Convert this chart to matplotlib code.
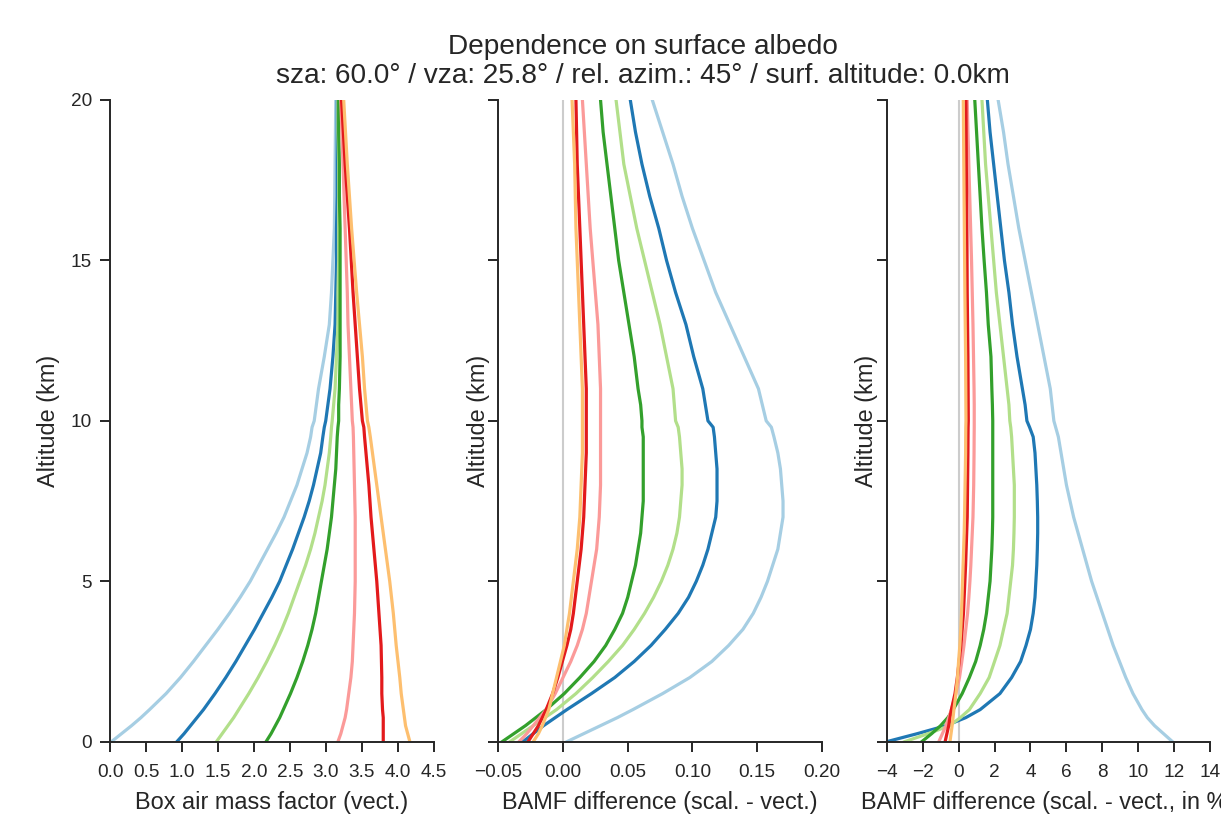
import numpy as np
import matplotlib
matplotlib.use("Agg")
import matplotlib.pyplot as plt

plt.rcParams['font.family'] = ['Liberation Sans', 'DejaVu Sans']

# altitude grid (km)
alt = [0, 0.25, 0.5, 0.75, 1, 1.5, 2, 2.5, 3, 3.5, 4, 4.5, 5, 5.5, 6, 6.5, 7, 7.5,
       8, 8.5, 9, 9.5, 9.8, 10, 10.5, 11, 12, 13, 14, 15, 16, 17, 18, 19, 20]

# Paired palette, one colour per albedo case
colors = ['#a6cee3', '#1f78b4', '#b2df8a', '#33a02c', '#fb9a99', '#e31a1c', '#fdbf6f']

# box air mass factor (vector RT)
bamf_vect = [
    [0.02, 0.16, 0.30, 0.43, 0.55, 0.78, 0.98, 1.16, 1.33, 1.50, 1.66, 1.81, 1.95, 2.07, 2.19, 2.31, 2.42, 2.51,
     2.60, 2.67, 2.74, 2.79, 2.81, 2.84, 2.87, 2.90, 2.98, 3.05, 3.08, 3.10, 3.12, 3.125, 3.13, 3.135, 3.14],
    [0.93, 1.03, 1.12, 1.21, 1.30, 1.46, 1.61, 1.75, 1.88, 2.01, 2.13, 2.25, 2.36, 2.45, 2.54, 2.62, 2.70, 2.77,
     2.83, 2.88, 2.93, 2.96, 2.98, 3.00, 3.03, 3.06, 3.10, 3.13, 3.14, 3.15, 3.15, 3.16, 3.16, 3.16, 3.16],
    [1.48, 1.56, 1.64, 1.72, 1.79, 1.93, 2.06, 2.18, 2.29, 2.39, 2.48, 2.56, 2.64, 2.72, 2.79, 2.85, 2.90, 2.95,
     2.99, 3.02, 3.05, 3.07, 3.08, 3.09, 3.11, 3.13, 3.15, 3.17, 3.17, 3.18, 3.18, 3.18, 3.18, 3.17, 3.17],
    [2.17, 2.24, 2.30, 2.36, 2.41, 2.51, 2.60, 2.68, 2.75, 2.81, 2.86, 2.90, 2.94, 2.98, 3.02, 3.05, 3.08, 3.10,
     3.12, 3.14, 3.15, 3.16, 3.17, 3.18, 3.18, 3.19, 3.20, 3.20, 3.20, 3.20, 3.20, 3.19, 3.19, 3.18, 3.18],
    [3.17, 3.21, 3.24, 3.27, 3.29, 3.32, 3.35, 3.37, 3.38, 3.39, 3.40, 3.405, 3.41, 3.41, 3.41, 3.41, 3.41, 3.405,
     3.40, 3.395, 3.39, 3.385, 3.38, 3.37, 3.36, 3.35, 3.33, 3.31, 3.30, 3.285, 3.27, 3.255, 3.24, 3.225, 3.21],
    [3.80, 3.80, 3.80, 3.80, 3.79, 3.78, 3.78, 3.775, 3.77, 3.755, 3.74, 3.725, 3.71, 3.69, 3.67, 3.65, 3.63, 3.615,
     3.60, 3.58, 3.56, 3.54, 3.53, 3.51, 3.49, 3.47, 3.44, 3.41, 3.38, 3.355, 3.33, 3.30, 3.27, 3.245, 3.22],
    [4.17, 4.14, 4.11, 4.095, 4.08, 4.05, 4.03, 4.005, 3.98, 3.96, 3.94, 3.915, 3.89, 3.86, 3.83, 3.80, 3.77, 3.74,
     3.71, 3.68, 3.65, 3.62, 3.60, 3.58, 3.56, 3.54, 3.51, 3.47, 3.43, 3.395, 3.36, 3.33, 3.30, 3.275, 3.25],
]

# scalar - vector difference
bamf_diff = [
    [0.003, 0.016, 0.029, 0.042, 0.054, 0.077, 0.098, 0.115, 0.128, 0.139, 0.147, 0.153, 0.158, 0.162, 0.166, 0.168, 0.170, 0.170,
     0.169, 0.168, 0.166, 0.163, 0.161, 0.157, 0.154, 0.151, 0.140, 0.129, 0.118, 0.109, 0.100, 0.092, 0.085, 0.077, 0.069],
    [-0.031, -0.023, -0.015, -0.006, 0.003, 0.022, 0.040, 0.055, 0.068, 0.079, 0.089, 0.097, 0.103, 0.108, 0.112, 0.115, 0.118, 0.119,
     0.119, 0.119, 0.118, 0.117, 0.116, 0.112, 0.110, 0.108, 0.101, 0.095, 0.087, 0.080, 0.074, 0.067, 0.061, 0.056, 0.052],
    [-0.041, -0.032, -0.023, -0.014, -0.005, 0.010, 0.023, 0.035, 0.046, 0.055, 0.063, 0.070, 0.076, 0.081, 0.085, 0.088, 0.090, 0.091,
     0.092, 0.092, 0.091, 0.090, 0.089, 0.087, 0.086, 0.085, 0.080, 0.075, 0.069, 0.063, 0.057, 0.052, 0.047, 0.044, 0.041],
    [-0.047, -0.038, -0.029, -0.021, -0.013, 0.001, 0.013, 0.024, 0.033, 0.040, 0.046, 0.050, 0.053, 0.056, 0.058, 0.060, 0.061, 0.062,
     0.062, 0.062, 0.062, 0.062, 0.061, 0.061, 0.060, 0.058, 0.055, 0.051, 0.047, 0.043, 0.040, 0.037, 0.034, 0.031, 0.029],
    [-0.034, -0.028, -0.023, -0.018, -0.013, -0.006, 0.000, 0.006, 0.011, 0.015, 0.018, 0.020, 0.022, 0.024, 0.026, 0.027, 0.028, 0.0285,
     0.029, 0.029, 0.029, 0.029, 0.029, 0.029, 0.029, 0.029, 0.028, 0.027, 0.025, 0.023, 0.021, 0.0195, 0.018, 0.0165, 0.015],
    [-0.027, -0.023, -0.019, -0.016, -0.013, -0.008, -0.004, -0.0005, 0.003, 0.006, 0.008, 0.0095, 0.011, 0.0125, 0.014, 0.015, 0.016, 0.0165,
     0.017, 0.0175, 0.018, 0.018, 0.018, 0.018, 0.018, 0.018, 0.017, 0.016, 0.015, 0.014, 0.013, 0.012, 0.011, 0.0105, 0.010],
    [-0.023, -0.019, -0.016, -0.0135, -0.011, -0.008, -0.005, -0.002, 0.001, 0.003, 0.005, 0.0065, 0.008, 0.0095, 0.011, 0.012, 0.013, 0.0135,
     0.014, 0.0145, 0.015, 0.015, 0.015, 0.015, 0.015, 0.015, 0.014, 0.013, 0.012, 0.011, 0.010, 0.0095, 0.009, 0.008, 0.007],
]

# scalar - vector difference in percent
bamf_diff_pct = [
    [11.9, 11.4, 10.9, 10.5, 10.2, 9.7, 9.3, 8.95, 8.6, 8.3, 8.0, 7.7, 7.4, 7.15, 6.9, 6.65, 6.4, 6.2,
     6.0, 5.85, 5.7, 5.55, 5.4, 5.3, 5.2, 5.1, 4.75, 4.4, 4.05, 3.7, 3.35, 3.05, 2.75, 2.5, 2.2],
    [-4.0, -2.3, -0.7, 0.4, 1.2, 2.3, 2.95, 3.45, 3.75, 4.0, 4.15, 4.25, 4.3, 4.35, 4.38, 4.4, 4.4, 4.38,
     4.35, 4.3, 4.25, 4.15, 3.95, 3.8, 3.7, 3.55, 3.25, 3.0, 2.8, 2.55, 2.35, 2.15, 1.95, 1.75, 1.6],
    [-3.0, -1.7, -0.5, 0.1, 0.6, 1.2, 1.7, 2.0, 2.3, 2.5, 2.7, 2.8, 2.9, 3.0, 3.05, 3.08, 3.1, 3.1,
     3.1, 3.05, 3.0, 2.95, 2.9, 2.85, 2.8, 2.7, 2.5, 2.3, 2.1, 1.95, 1.8, 1.65, 1.5, 1.4, 1.3],
    [-2.05, -1.5, -1.0, -0.6, -0.3, 0.2, 0.6, 0.95, 1.2, 1.4, 1.55, 1.65, 1.75, 1.8, 1.85, 1.88, 1.9, 1.9,
     1.9, 1.9, 1.9, 1.9, 1.9, 1.9, 1.88, 1.85, 1.8, 1.65, 1.55, 1.42, 1.3, 1.2, 1.1, 1.0, 0.9],
    [-1.1, -0.9, -0.7, -0.55, -0.4, -0.15, 0.05, 0.18, 0.3, 0.4, 0.5, 0.57, 0.63, 0.68, 0.72, 0.76, 0.8, 0.82,
     0.84, 0.85, 0.86, 0.865, 0.87, 0.87, 0.87, 0.86, 0.83, 0.8, 0.76, 0.72, 0.67, 0.62, 0.57, 0.52, 0.48],
    [-0.75, -0.65, -0.55, -0.48, -0.4, -0.2, -0.07, 0.03, 0.13, 0.2, 0.27, 0.31, 0.35, 0.39, 0.42, 0.45, 0.48, 0.49,
     0.5, 0.51, 0.52, 0.525, 0.53, 0.54, 0.535, 0.53, 0.52, 0.5, 0.48, 0.47, 0.46, 0.445, 0.43, 0.42, 0.41],
    [-0.48, -0.42, -0.36, -0.31, -0.26, -0.15, -0.06, 0.0, 0.07, 0.12, 0.16, 0.19, 0.22, 0.25, 0.28, 0.31, 0.33, 0.345,
     0.36, 0.375, 0.39, 0.395, 0.4, 0.41, 0.405, 0.4, 0.39, 0.37, 0.35, 0.335, 0.32, 0.305, 0.29, 0.275, 0.26],
]

xlabels = ['Box air mass factor (vect.)',
           'BAMF difference (scal. - vect.)',
           'BAMF difference (scal. - vect., in %)']
xlims = [(0, 4.5), (-0.05, 0.20), (-4, 14)]
xticks = [np.arange(0, 4.51, 0.5), np.arange(-0.05, 0.201, 0.05), np.arange(-4, 14.1, 2)]
xfmt = ['%.1f', '%.2f', '%d']

dark = '#262626'
fig = plt.figure(figsize=(12.21, 8.21), dpi=100)
lefts = [0.0901, 0.4081, 0.7262]
axes = [fig.add_axes([l, 0.0966, 0.2650, 0.7816]) for l in lefts]

for i, (ax, data) in enumerate(zip(axes, [bamf_vect, bamf_diff, bamf_diff_pct])):
    if i > 0:
        ax.axvline(0, color='#cccccc', lw=1.5, zorder=1)
    for c, prof in zip(colors, data):
        ax.plot(prof, alt, color=c, lw=2.3)
    ax.set_xlim(*xlims[i])
    ax.set_ylim(0, 20)
    ax.set_xticks(xticks[i])
    ax.set_xticklabels([(xfmt[i] % t).replace('-', '\u2212') for t in xticks[i]])
    ax.set_yticks([0, 5, 10, 15, 20])
    if i > 0:
        ax.set_yticklabels([])
    for s in ['top', 'right']:
        ax.spines[s].set_visible(False)
    for s in ['left', 'bottom']:
        ax.spines[s].set_color(dark)
        ax.spines[s].set_linewidth(1.4)
    ax.tick_params(direction='out', length=7, width=1.4, color=dark,
                   labelcolor=dark, labelsize=13.7)
    ax.tick_params(axis='x', pad=9)
    ax.tick_params(axis='y', pad=6)
    ax.set_xlabel(xlabels[i], fontsize=16.9, color=dark, labelpad=7)
    ax.set_ylabel('Altitude (km)', fontsize=16.9, color=dark,
                  labelpad=8 if i == 0 else -7)
    ax.patch.set_visible(False)

fig.text(0.5266, 0.943, 'Dependence on surface albedo', ha='center', va='center',
         fontsize=20.2, color=dark)
fig.text(0.5266, 0.908, 'sza: 60.0\u00b0 / vza: 25.8\u00b0 / rel. azim.: 45\u00b0 / surf. altitude: 0.0km',
         ha='center', va='center', fontsize=20.2, color=dark)

fig.savefig('out.png', dpi=100, facecolor='white')
